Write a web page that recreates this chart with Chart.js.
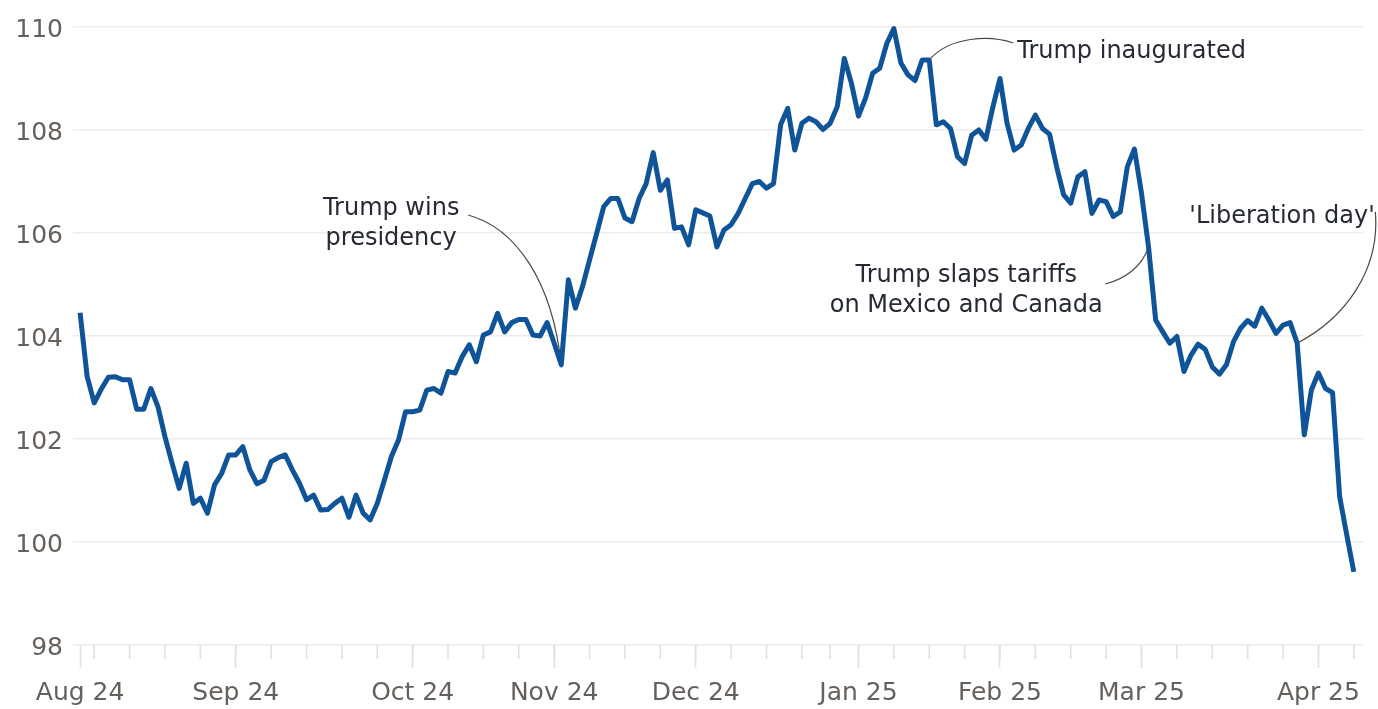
<!DOCTYPE html>
<html>
<head>
<meta charset="utf-8">
<title>Dollar index</title>
<script src="https://cdn.jsdelivr.net/npm/chart.js@4.4.1/dist/chart.umd.min.js"></script>
<style>
  html, body { margin: 0; padding: 0; background: #fff; }
  .wrap { width: 1378px; height: 709px; position: relative; }
</style>
</head>
<body>
<div class="wrap"><canvas id="myChart"></canvas></div>
<script>
(function(){
  'use strict';

  // one value per trading day, 1 Aug 2024 -> 14 Apr 2025 (index = trading day)
  const values = [
    104.45, 103.21, 102.70, 102.97, 103.20, 103.21, 103.15, 103.15, 102.58, 102.58,
    102.98, 102.63, 102.04, 101.53, 101.04, 101.53, 100.75, 100.85, 100.56, 101.11,
    101.33, 101.69, 101.69, 101.85, 101.40, 101.13, 101.20, 101.56, 101.64, 101.69,
    101.40, 101.14, 100.82, 100.91, 100.62, 100.63, 100.75, 100.85, 100.48, 100.91,
    100.56, 100.43, 100.75, 101.20, 101.66, 101.98, 102.53, 102.53, 102.56, 102.95,
    102.98, 102.89, 103.31, 103.28, 103.60, 103.83, 103.50, 104.02, 104.08, 104.44,
    104.08, 104.26, 104.32, 104.32, 104.02, 104.00, 104.26, 103.86, 103.44, 105.09,
    104.54, 104.96, 105.48, 105.99, 106.51, 106.67, 106.67, 106.29, 106.22, 106.67,
    106.96, 107.56, 106.83, 107.03, 106.09, 106.12, 105.77, 106.45, 106.39, 106.33,
    105.73, 106.06, 106.16, 106.38, 106.67, 106.96, 107.00, 106.87, 106.96, 108.10,
    108.42, 107.61, 108.13, 108.23, 108.16, 108.01, 108.13, 108.45, 109.39, 108.91,
    108.27, 108.62, 109.10, 109.20, 109.68, 109.97, 109.30, 109.07, 108.96, 109.36,
    109.36, 108.10, 108.16, 108.03, 107.48, 107.35, 107.90, 108.00, 107.82, 108.45,
    109.00, 108.13, 107.61, 107.71, 108.03, 108.29, 108.03, 107.92, 107.29, 106.74,
    106.58, 107.09, 107.19, 106.38, 106.64, 106.61, 106.32, 106.41, 107.29, 107.63,
    106.77, 105.72, 104.31, 104.08, 103.86, 103.99, 103.31, 103.63, 103.84, 103.74,
    103.40, 103.26, 103.44, 103.89, 104.15, 104.30, 104.19, 104.54, 104.31, 104.05,
    104.21, 104.26, 103.86, 102.08, 102.95, 103.28, 102.98, 102.90, 100.88, 100.14,
    99.42
  ];

  const monthLabels = ['Aug 24', 'Sep 24', 'Oct 24', 'Nov 24', 'Dec 24', 'Jan 25', 'Feb 25', 'Mar 25', 'Apr 25'];
  const monthTicks  = [0, 22, 47, 67, 87, 110, 130, 150, 175];
  // Mondays (small ticks)
  const weekTicks = [2, 7, 12, 17, 22, 27, 32, 37, 42, 47, 52, 57, 62, 67, 72, 77, 82, 87, 92, 97,
                     102, 106, 110, 115, 120, 125, 130, 135, 140, 145, 150, 155, 160, 165, 170, 175, 180];
  const yTicks = [98, 100, 102, 104, 106, 108, 110];

  // text anchor and connector curve, both in [trading day, index value]
  const notes = [
    { lines: ['Trump wins', 'presidency'], at: [43.96, 106.35], align: 'center',
      path: [[54.84, 106.35], [61.48, 106.10], [66.71, 105.09], [68, values[68]]] },
    { lines: ['Trump inaugurated'], at: [132.44, 109.40], align: 'left',
      path: [[120, values[120]], [122.97, 109.83], [128.62, 109.84], [131.87, 109.69]] },
    { lines: ['Trump slaps tariffs', 'on Mexico and Canada'], at: [125.23, 105.05], align: 'center',
      path: [[144.88, 105.01], [148.13, 105.13], [150.11, 105.40], [151, values[151]]] },
    { lines: ["'Liberation day'"], at: [156.75, 106.19], align: 'left',
      path: [[172, values[172]], [178.8, 104.35], [183.75, 105.28], [183.04, 106.41]] }
  ];

  const FONT = 'DejaVu Sans';
  const lineBlue = '#0f5499';
  const gridGrey = '#eeece9';
  const tickGrey = '#e2dfdc';
  const labelGrey = '#66605c';
  const textDark = '#262a33';

  const notesPlugin = {
    id: 'notes',
    beforeDatasetsDraw(chart) {
      const c = chart.ctx, xs = chart.scales.x, ys = chart.scales.y;
      const px = p => [xs.getPixelForValue(p[0]), ys.getPixelForValue(p[1])];
      const b = chart.chartArea.bottom;
      c.save();

      // weekly ticks
      c.strokeStyle = tickGrey;
      c.lineWidth = 1.5;
      weekTicks.forEach(i => {
        const x = xs.getPixelForValue(i);
        c.beginPath(); c.moveTo(x, b); c.lineTo(x, b + 14); c.stroke();
      });

      c.strokeStyle = '#4d4845';
      c.lineWidth = 1.2;
      c.fillStyle = textDark;
      c.font = '24px "' + FONT + '"';
      c.textBaseline = 'alphabetic';
      notes.forEach(n => {
        const p = n.path.map(px);
        c.beginPath();
        c.moveTo(p[0][0], p[0][1]);
        c.bezierCurveTo(p[1][0], p[1][1], p[2][0], p[2][1], p[3][0], p[3][1]);
        c.stroke();
        const a = px(n.at);
        c.textAlign = n.align;
        n.lines.forEach((t, k) => c.fillText(t, a[0], a[1] + k * 30));
      });
      c.restore();
    }
  };

  const ctx = document.getElementById('myChart');

  new Chart(ctx, {
    type: 'line',
    data: {
      datasets: [{
        label: 'Dollar index',
        data: values.map((v, i) => ({ x: i, y: v })),
        borderColor: lineBlue,
        borderWidth: 5,
        borderJoinStyle: 'round',
        pointRadius: 0,
        tension: 0,
        clip: false
      }]
    },
    options: {
      responsive: true,
      maintainAspectRatio: false,
      animation: false,
      layout: { padding: { top: 27, right: 15, left: 0, bottom: 0 } },
      plugins: { legend: { display: false }, tooltip: { enabled: false } },
      scales: {
        x: {
          type: 'linear',
          min: -1,
          max: 181.3,
          afterBuildTicks: s => { s.ticks = monthTicks.map(v => ({ value: v })); },
          afterFit: s => { s.height = 64; },
          border: { display: false },
          grid: { drawOnChartArea: false, tickLength: 23, tickColor: tickGrey, tickWidth: 1.5 },
          ticks: {
            autoSkip: false, maxRotation: 0, padding: 10, color: labelGrey,
            font: { family: FONT, size: 25 },
            callback: (v, i) => monthLabels[i]
          }
        },
        y: {
          min: 98,
          max: 110,
          afterBuildTicks: s => { s.ticks = yTicks.map(v => ({ value: v })); },
          afterFit: s => { s.width = 73; },
          border: { display: false },
          grid: { color: gridGrey, lineWidth: 1.5, drawTicks: false },
          ticks: { padding: 10, labelOffset: 3, color: labelGrey, font: { family: FONT, size: 25 } }
        }
      }
    },
    plugins: [notesPlugin]
  });

})();
</script>
</body>
</html>
